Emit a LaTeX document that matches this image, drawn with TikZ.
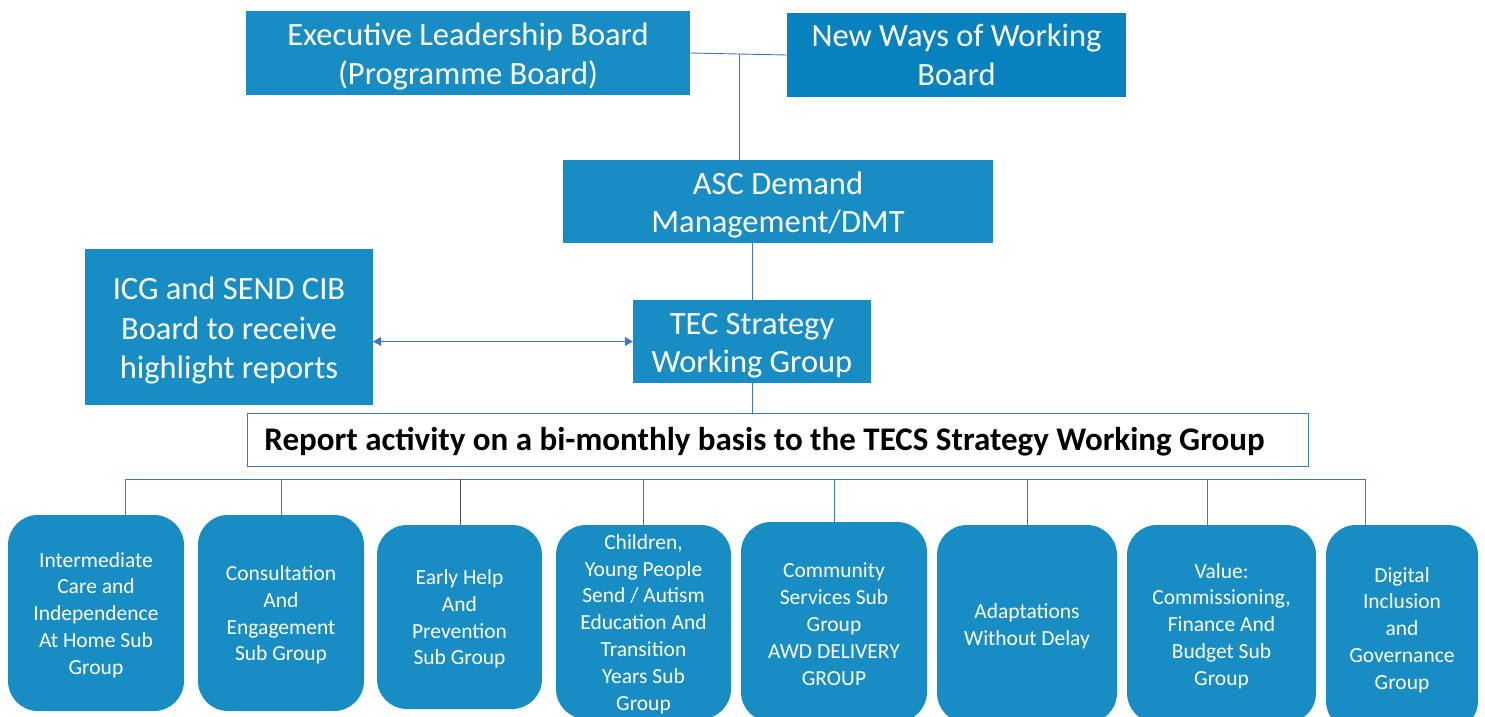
\documentclass[tikz,border=0pt]{standalone}
\usepackage{fontspec}
\setmainfont{Carlito}
\usetikzlibrary{arrows.meta}
\definecolor{boxblue}{RGB}{24,141,196}
\definecolor{darkblue}{RGB}{8,130,190}
\definecolor{linkblue}{RGB}{68,114,196}
\newcommand{\bigstrut}{\rule{0pt}{30pt}}
\newcommand{\smallstrut}{\rule{0pt}{19pt}}
\tikzset{
  box/.style={fill=boxblue, draw=none, text=white, align=center, inner sep=0pt},
  bigtext/.style={font=\fontsize{32.5}{38.5}\selectfont},
  subbox/.style={box, rounded corners=30pt, font=\fontsize{21.5}{26.8}\selectfont},
  link/.style={draw=linkblue, line width=0.9pt},
}
\begin{document}
\begin{tikzpicture}[x=1pt,y=-1pt]
\useasboundingbox (0,0) rectangle (1485,717);
\clip (0,0) rectangle (1485,717);
% top boards
\node[box, bigtext, minimum width=444pt, minimum height=84pt] (elb) at (468,53) {\bigstrut Executive Leadership Board\\(Programme Board)};
\node[box, bigtext, fill=darkblue, minimum width=339pt, minimum height=84pt] (nww) at (956.5,55) {New Ways of Working\\Board};
\node[box, bigtext, minimum width=430pt, minimum height=83pt] (asc) at (778,201.5) {\bigstrut ASC Demand\\Management/DMT};
\node[box, bigtext, minimum width=238pt, minimum height=83pt] (tec) at (752,341.5) {\bigstrut TEC Strategy\\Working Group};
\node[box, font=\fontsize{32.5}{39.5}\selectfont, minimum width=288pt, minimum height=156pt] (icg) at (229,327) {\bigstrut ICG and SEND CIB\\Board to receive\\highlight reports};
\node[draw=linkblue, line width=1pt, fill=white, minimum width=1061pt, minimum height=53pt, inner sep=0pt] (rpt) at (777.5,439.5) {};
\node[font=\bfseries\fontsize{33}{36}\selectfont, inner sep=0pt] (rpttext) at (764.5,442) {Report activity on a bi-monthly basis to the TECS Strategy Working Group};
% sub groups
\node[subbox, minimum width=176pt, minimum height=196pt] (s1) at (96,613) {\smallstrut Intermediate\\Care and\\Independence\\At Home Sub\\Group};
\node[subbox, minimum width=166pt, minimum height=196pt] (s2) at (281,613) {\smallstrut Consultation\\And\\Engagement\\Sub Group};
\node[subbox, minimum width=165pt, minimum height=184pt] (s3) at (459.5,617) {\smallstrut Early Help\\And\\Prevention\\Sub Group};
\node[subbox, minimum width=175pt, minimum height=194pt] (s4) at (643.5,622) {\smallstrut Children,\\Young People\\Send / Autism\\Education And\\Transition\\Years Sub\\Group};
\node[subbox, minimum width=186pt, minimum height=200pt] (s5) at (834,622) {\smallstrut Community\\Services Sub\\Group\\AWD DELIVERY\\GROUP};
\node[subbox, minimum width=180pt, minimum height=198pt] (s6) at (1027,624) {\smallstrut Adaptations\\Without Delay};
\node[subbox, minimum width=189pt, minimum height=198pt] (s7) at (1221.5,624) {\smallstrut Value:\\Commissioning,\\Finance And\\Budget Sub\\Group};
\node[subbox, minimum width=152pt, minimum height=206pt] (s8) at (1402,628) {\smallstrut Digital\\Inclusion\\and\\Governance\\Group};
% connectors top
\draw[link] (elb.east) -- (nww.west);
\coordinate (j) at (739,54);
\draw[link] (j) -- (j |- asc.north);
\draw[link] (tec.north |- asc.south) -- (tec.north);
\draw[link, {Triangle[length=8pt,width=9pt]}-{Triangle[length=8pt,width=9pt]}] (icg.east |- tec.west) -- (tec.west);
\draw[link] (tec.south) -- (tec.south |- rpt.north);
% bus
\coordinate (busL) at (125,479);
\coordinate (busR) at (1365,479);
\draw[link] (busL) -- (busR);
\draw[link] (busL) -- (busL |- s1.north);
\draw[link] (281,479) -- (s2.north);
\draw[draw=black!70, line width=1pt] (460,479) -- (460,525);
\draw[link] (643,479) -- (643,525);
\draw[link] (834,479) -- (s5.north);
\draw[link] (1027,479) -- (s6.north);
\draw[link] (1207,479) -- (1207,525);
\draw[link] (busR) -- (busR |- s8.north);
\end{tikzpicture}
\end{document}
